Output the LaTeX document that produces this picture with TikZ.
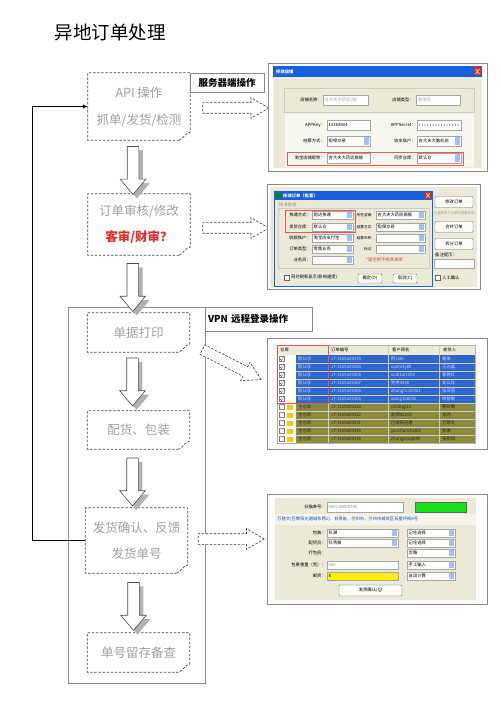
\documentclass[tikz,border=0pt]{standalone}
\usepackage{fontspec}
\setmainfont{Noto Sans CJK SC}
\usetikzlibrary{arrows.meta,calc,positioning,shapes.arrows,shadows}

\definecolor{boxgray}{HTML}{A0A0A0}
\definecolor{xpblue}{HTML}{1660E0}
\definecolor{winbeige}{HTML}{ECE9D8}
\definecolor{rowblue}{HTML}{3067CB}
\definecolor{rowolive}{HTML}{8C8B3C}
\definecolor{framegray}{HTML}{8A8A8A}
\definecolor{markred}{HTML}{E0302A}
\definecolor{scangreen}{HTML}{16E016}

\newcommand\scrfont{\fontsize{4.3}{5}\selectfont}

% dashed page with a curled corner round a flow node
\newcommand\docframe[1]{%
  \draw[docline] ($(#1.south east)+(-11,0)$) -- (#1.south west) -- (#1.north west)
    -- (#1.north east) -- ($(#1.south east)+(0,-8)$)
    .. controls +(-3,1) and +(2,-3) .. ($(#1.south east)+(-6,-4)$)
    .. controls +(-2,3) and +(2,-2) .. ($(#1.south east)+(-11,0)$);}

% screen widgets: name, x1, y1, x2, y2, text
\newcommand\field[6]{%
  \draw[fieldline] (#2,#3) rectangle (#4,#5);
  \node[scr, anchor=west] (#1) at (#2+1.5,{(#3+#5)/2}) {#6};}
\newcommand\combo[6]{%
  \field{#1}{#2}{#3}{#4}{#5}{#6}
  \fill[xpblue!40] (#4-6,#3+1) rectangle (#4-1,#5-1);}
\newcommand\lbl[4]{\node[scr, anchor=east] (#1) at (#2,#3) {#4};}

\begin{document}
\begin{tikzpicture}[x=1pt, y=-1pt,
  flowbox/.style={minimum width=102pt, inner sep=0pt, align=center, text=boxgray,
    font=\fontsize{12.5}{15}\selectfont},
  docline/.style={draw=black!70, dash pattern=on 2.5pt off 1.6pt, line width=0.7pt},
  sidetag/.style={draw=framegray, line width=0.6pt, inner sep=0pt,
    font=\fontsize{9.5}{11}\selectfont\bfseries},
  downarrow/.style={single arrow, draw=black!70, fill=white, line width=0.6pt,
    shape border rotate=270, minimum height=48pt, inner sep=5.5pt,
    single arrow head extend=7pt, single arrow tip angle=80,
    drop shadow={shadow xshift=4pt, shadow yshift=-4pt, fill=black!30, opacity=1}},
  sidearrow/.style={single arrow, draw=black!75, fill=white, line width=0.6pt,
    dash pattern=on 2.5pt off 1.5pt, minimum height=66pt, inner xsep=0pt, inner ysep=5pt,
    single arrow head extend=5pt, single arrow tip angle=60},
  shotframe/.style={draw=framegray, line width=0.7pt, fill=white, inner sep=0pt},
  scr/.style={font=\scrfont, inner sep=0pt},
  fieldline/.style={draw=black!35, fill=white, line width=0.3pt},
  btn/.style={draw=black!55, fill=white!80!winbeige, rounded corners=1pt,
    font=\scrfont, inner sep=0pt},
  ]
\useasboundingbox (0,0) rectangle (500,708);

\node[anchor=west, font=\fontsize{18.5}{20}\selectfont] (title) at (51,33) {异地订单处理};

% flow
\node[flowbox, minimum height=67pt] (api) at (139,106.5) {API 操作\\[12pt]抓单/发货/检测};
\node[flowbox, minimum height=61pt] (check) at (139,224.5)
  {订单审核/修改\\[11pt]\textcolor{markred}{\bfseries 客审/财审？}};
\node[flowbox, minimum height=39pt] (print) at (138.5,332.5) {单据打印};
\node[flowbox, minimum height=38pt] (pack) at (138.5,430) {配货、包装};
\node[flowbox, minimum height=65pt] (ship) at (136.5,540.5) {发货确认、反馈\\[11pt]发货单号};
\node[flowbox, minimum height=39pt] (keep) at (138.5,652.5) {单号留存备查};
\foreach \b in {api,check,print,pack,ship,keep} {\docframe{\b}}

\draw[framegray, line width=0.7pt] (68,307) rectangle (205,683);
\node[sidetag, minimum width=74pt, minimum height=19pt] (srv) at (227,82.5) {服务器端操作};
\node[sidetag, minimum width=107pt, minimum height=24pt, text width=101pt, align=left]
  (vpn) at (258.5,319) {VPN 远程登录操作};

\node[downarrow] (d1) at ($(api.south)!.5!(check.north)+(-6,0)$) {};
\node[downarrow] (d2) at ($(check.south)!.5!(print.north)+(-6,0)$) {};
\node[downarrow] (d3) at ($(print.south)!.5!(pack.north)+(-6,-3)$) {};
\node[downarrow] (d4) at ($(pack.south)!.5!(ship.north)+(-5,0)$) {};
\node[downarrow] (d5) at ($(ship.south)!.5!(keep.north)+(-4,0)$) {};

\draw[line width=1.6pt, -{Latex[length=5pt,width=4.5pt]}] (ship.west) -- ++(-53,0) |- (api.west);

\node[sidearrow] (r1) at ($(api.east)+(41,1.5)$) {};
\node[sidearrow] (r2) at ($(check.east)+(41,3.5)$) {};
\node[sidearrow, rotate=-27] (r3) at ($(print.east)+(38,30)$) {};
\node[sidearrow] (r5) at ($(ship.east)+(39,-1.5)$) {};

% shop settings window
\node[shotframe, minimum width=219pt, minimum height=108pt] (shot1) at (377.5,117) {};
\fill[winbeige] (273,66) rectangle (482,168);
\fill[xpblue] (273,66) rectangle (482,77);
\node[scr, text=white, font=\scrfont\bfseries, anchor=west] (s1title) at (276,71.5) {修改店铺};
\fill[red!70!orange] (474,67.5) rectangle (481,75.5);
\draw[white, line width=0.6pt] (475.5,69) -- (479.5,74) (479.5,69) -- (475.5,74);
\draw[black!20] (284,88) rectangle (474,112);
\lbl{s1a}{322}{100}{店铺名称：}
\field{s1b}{323}{95}{368}{105}{\color{black!35}吉大夫大药房(淘)}
\lbl{s1c}{414}{100}{店铺类型：}
\field{s1d}{416}{95}{460}{105}{\color{black!35}淘宝网}
\fill[white!60!winbeige] (285,113) rectangle (474,167);
\lbl{s1e}{325}{125}{APPKey：}
\field{s1f}{327}{120}{370}{130}{12368904}
\lbl{s1g}{416}{125}{APPSecret：}
\draw[fieldline] (417,120) rectangle (461,130);
\foreach \k in {0,...,14} {\fill[black!80] (419.5+2.75*\k,125) circle (0.55);}
\lbl{s1i}{325}{141}{结算方式：}
\combo{s1j}{327}{136}{370}{146}{担保交易}
\lbl{s1k}{416}{141}{收支账户：}
\combo{s1l}{417}{136}{461}{146}{吉大夫大脑机店}
\draw[markred!80, line width=0.5pt] (287,152) rectangle (463,165);
\lbl{s1m}{325}{158}{淘宝店铺昵称：}
\field{s1n}{327}{153}{370}{163}{吉大夫大药房旗舰}
\lbl{s1o}{416}{158}{同步仓库：}
\combo{s1p}{417}{153}{461}{163}{默认仓}

% batch order window
\node[shotframe, minimum width=213pt, minimum height=105pt] (shot2) at (373.5,236.5) {};
\fill[winbeige] (270,187) rectangle (477,287);
\draw[xpblue, fill=winbeige, line width=0.8pt] (274,191) rectangle (432,286);
\fill[xpblue] (274,191) rectangle (432,200);
\fill[green!55!black] (276,193) rectangle (281,198);
\node[scr, text=white, font=\scrfont\bfseries, anchor=west] (s2title) at (283,195.5) {修改订单（批量）};
\fill[red!70!orange] (425,192) rectangle (431,199);
\draw[white, line width=0.6pt] (426.3,193.5) -- (429.7,197.5) (429.7,193.5) -- (426.3,197.5);
\node[scr, text=black!50, anchor=west] (s2grp) at (279,205) {修改信息};
\draw[black!20] (278,208) rectangle (429,268);
\foreach \y/\la/\va/\lb/\vb [count=\i] in {215/快递方式：/韵达快递/所在店铺：/吉大夫大药房旗舰,
    227/发货仓库：/默认仓/结算方式：/担保交易, 238/收款账户：/淘宝店支付宝/结算币种：/{},
    249/订单类型：/零售业务/标记：/{}} {
  \lbl{s2l\i}{311}{\y}{\la}
  \combo{s2c\i}{312}{\y-4}{353}{\y+4}{\va}
  \node[scr, anchor=east, font=\fontsize{3.6}{4}\selectfont] (s2m\i) at (375,\y) {\lb};
  \combo{s2d\i}{376}{\y-4}{425}{\y+4}{\vb}
}
\lbl{s2l5}{311}{260}{业务员：}
\combo{s2c5}{312}{256}{353}{264}{}
\node[scr, text=markred, anchor=west] (s2note) at (366,260) {*留空则不修改该项};
\draw[markred!80, line width=0.5pt] (285,210) rectangle (355,232);
\draw[black!60, fill=white] (284,275) rectangle (289,280);
\node[scr, anchor=west] (s2chk) at (291,277.5) {同时刷新显示(影响速度)};
\node[btn, minimum width=24pt, minimum height=9pt] (s2ok) at (370,278.5) {确定(O)};
\node[btn, minimum width=24pt, minimum height=9pt] (s2no) at (405,278.5) {取消(C)};
\node[btn, minimum width=38pt, minimum height=11pt] (s2b1) at (454,202) {修改订单};
\node[scr, text=black!40, font=\fontsize{3.4}{4}\selectfont] (s2hint) at (454,213) {已选择多个订单可批量修改};
\node[btn, minimum width=38pt, minimum height=11pt] (s2b2) at (454,227) {合并订单};
\node[btn, minimum width=38pt, minimum height=11pt] (s2b3) at (454,244) {拆分订单};
\node[scr, anchor=west] (s2memo) at (435,255) {备注提示：};
\draw[fieldline] (434,259) rectangle (474,268);
\draw[black!60, fill=white] (435,275) rectangle (440,280);
\node[scr, anchor=west] (s2man) at (442,277.5) {人工确认};

% order list
\node[shotframe, minimum width=220pt, minimum height=111pt] (shot3) at (377,393.5) {};
\fill[winbeige] (277,345) rectangle (475,355);
\node[scr, anchor=west] (h1) at (280,350) {仓库};
\node[scr, anchor=west] (h2) at (331,350) {订单编号};
\node[scr, anchor=west] (h3) at (392,350) {客户网名};
\node[scr, anchor=west] (h4) at (443,350) {收货人};
\foreach \n/\c/\r [count=\i] in {370/阿Li86/戴琳, 369/vanni4y85/王光磊, 368/sudi1ai1050/翟艳红,
    367/男男4348/吴云年, 366/zhangrui10021/张亚丽, 365/wang158086/徐智敏} {
  \fill[rowblue] (296,347+8*\i) rectangle (475,355+8*\i);
  \draw[black!50, fill=white] (279,348.5+8*\i) rectangle (284,353.5+8*\i);
  \draw[black!75, line width=0.4pt] (280,351+8*\i) -- (281.5,352.5+8*\i) -- (283.5,349.5+8*\i);
  \node[scr, text=white!75!rowblue, anchor=west] (ta\i) at (298,351+8*\i) {默认仓};
  \node[scr, text=white!75!rowblue, anchor=west] (tb\i) at (331,351+8*\i) {JT-1109220\n};
  \node[scr, text=white!75!rowblue, anchor=west] (tc\i) at (391,351+8*\i) {\c};
  \node[scr, text=white!75!rowblue, anchor=west] (td\i) at (442,351+8*\i) {\r};
}
\foreach \n/\c/\r [count=\i from 7] in {323/ceclingl10/曹玲霞, 322/刺猬02215/张丹,
    321/巴黎阳光道/万慧文, 319/ysuchanchsl23/陈琳, 318/zhangxinqi885/张新琪} {
  \fill[rowolive] (296,347+8*\i) rectangle (475,355+8*\i);
  \draw[black!50, fill=white] (279,348.5+8*\i) rectangle (284,353.5+8*\i);
  \fill[yellow!60!orange] (287,349+8*\i) rectangle (293,354+8*\i);
  \node[scr, text=black!85, anchor=west] (ta\i) at (298,351+8*\i) {主仓库};
  \node[scr, text=black!85, anchor=west] (tb\i) at (331,351+8*\i) {JT-1109220\n};
  \node[scr, text=black!85, anchor=west] (tc\i) at (391,351+8*\i) {\c};
  \node[scr, text=black!85, anchor=west] (td\i) at (442,351+8*\i) {\r};
}
\foreach \x in {328,388,439} {\draw[white!60!gray, line width=0.3pt] (\x,345) -- (\x,443);}
\foreach \i in {1,...,10} {\draw[white!60!gray, line width=0.2pt] (296,355+8*\i) -- (475,355+8*\i);}
\draw[black!30] (277,345) rectangle (475,443);
\draw[markred!80, line width=0.5pt] (277,345) rectangle (328,403);

% delivery confirm window
\node[shotframe, minimum width=220pt, minimum height=110pt] (shot4) at (377,549) {};
\fill[winbeige] (275,498) rectangle (476,600);
\lbl{s4a}{326}{507}{扫描单号：}
\field{s4b}{327}{502}{403}{512}{\color{black!45}680136009785}
\draw[black!60, fill=scangreen] (415,502) rectangle (466,512);
\fill[white!50!winbeige] (275,514) rectangle (476,525);
\node[scr, text=xpblue!80!black, anchor=west] (s4addr) at (277,519.5)
  {万慧文(巴黎阳光道城东西1)，甘肃省，兰州市，兰州市城关区五星坪街8号};
\lbl{s4l1}{326}{533}{包装：}
\combo{s4c1}{327}{529}{398}{537}{科潮}
\lbl{s4l2}{326}{543}{配货员：}
\combo{s4c2}{327}{539}{398}{547}{科秀敏}
\lbl{s4l3}{326}{553}{打包员：}
\lbl{s4l4}{326}{565}{包裹重量（克）：}
\field{s4c4}{327}{561}{398}{569}{\color{black!45}500}
\lbl{s4l5}{326}{576}{邮资：}
\draw[black!35, fill=yellow] (327,572) rectangle (398,580);
\node[scr, anchor=west] (s4c5) at (328.5,576) {8};
\foreach \y/\v [count=\i] in {533/记住选择, 543/记住选择, 553/忽略, 565/手工输入, 576/自动计算}
  {\combo{s4d\i}{407}{\y-4}{455}{\y+4}{\v}}
\node[btn, minimum width=63pt, minimum height=11pt] (s4ok) at (370.5,590.5) {发货确认(Q)};
\end{tikzpicture}
\end{document}
